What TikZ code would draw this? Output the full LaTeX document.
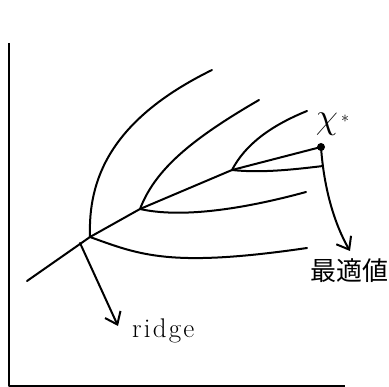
\RequirePackage{fix-cm}
\documentclass[tikz,border=0pt]{standalone}
\usepackage{fontspec}
\newfontfamily\cjk{Noto Sans CJK JP}
\newfontfamily\spacedfont[LetterSpace=8]{Latin Modern Roman}
\usetikzlibrary{arrows.meta}
\begin{document}
\begin{tikzpicture}[x=1pt,y=-1pt,
  ln/.style={line width=2pt,line cap=round,line join=round},
  arr/.style={ln,-{Straight Barb[length=11pt,width=17pt,line width=2pt]}},
  lbl/.style={inner sep=0pt}]
\useasboundingbox (0,0) rectangle (389,387);
% frame
\coordinate (ftop) at (9,43);
\coordinate (forig) at (9,386);
\coordinate (fright) at (345,386);
\draw[ln,line cap=butt] (ftop) -- (forig) -- (fright);
% ridge
\coordinate (r0) at (27,281);
\coordinate (r1) at (90,237);
\coordinate (r2) at (140,209);
\coordinate (r3) at (232,170);
\node[circle,fill,inner sep=0pt,minimum size=8pt] (xs) at (321,147) {};
\draw[ln] (r0) -- (r1) -- (r2) -- (r3) -- (xs.center);
% branches from r1
\coordinate (b1) at (212,70);
\coordinate (b2) at (307,248);
\draw[ln] (r1) .. controls (88,180) and (110,120) .. (b1);
\draw[ln] (r1) .. controls (140,255) and (170,268) .. (b2);
% branches from r2
\coordinate (b3) at (259,100);
\coordinate (b4) at (306,192);
\draw[ln] (r2) .. controls (155,170) and (190,140) .. (b3);
\draw[ln] (r2) .. controls (180,218) and (240,210) .. (b4);
% branches from r3
\coordinate (b5) at (307,111);
\coordinate (b6) at (323,166);
\draw[ln] (r3) .. controls (245,145) and (270,126) .. (b5);
\draw[ln] (r3) .. controls (260,173) and (290,170) .. (b6);
% labels
\node[lbl,font=\fontsize{36}{36}\selectfont] (chi) at (327,124) {$\chi$};
\node[lbl,font=\fontsize{16}{16}\selectfont] (star) at (345,119) {$*$};
\node[lbl,font=\cjk\fontsize{26}{26}\selectfont] (opt) at (349,271) {最適値};
\node[lbl,font=\spacedfont\fontsize{27}{27}\selectfont,anchor=base west] (ridge) at (132,338) {ridge};
% arrows
\coordinate (rs) at (80,243);
\coordinate (re) at (118,326);
\draw[arr] (rs) -- (re);
\coordinate (oe) at (350,251);
\draw[arr] (xs.center) .. controls (324,190) and (335,225) .. (oe);
\end{tikzpicture}
\end{document}
